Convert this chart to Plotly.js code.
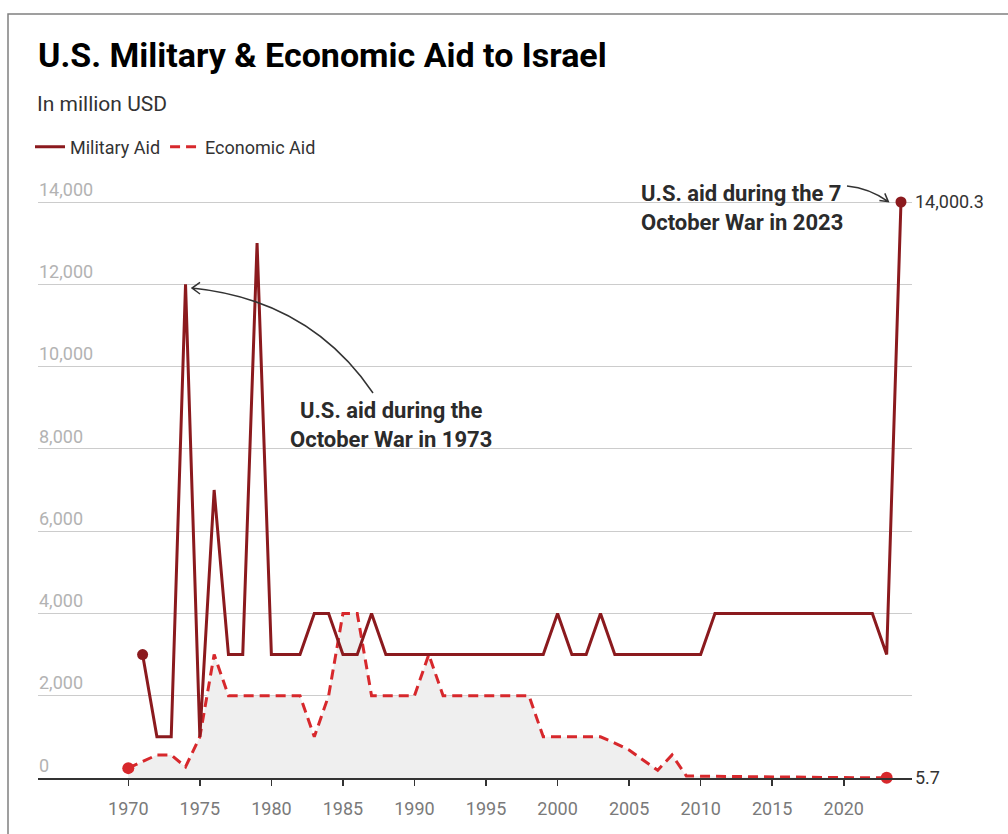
<!DOCTYPE html>
<html>
<head>
<meta charset="utf-8">
<script src="https://cdn.plot.ly/plotly-3.0.1.min.js"></script>
<style>
html,body{margin:0;padding:0;background:#fff;overflow:hidden;}
#chart{width:1008px;height:834px;}
</style>
</head>
<body>
<div id="chart"></div>
<script>
// ---- data ----
const militaryYears = [1971,1972,1973,1974,1975,1976,1977,1978,1979,1980,1981,1982,1983,1984,1985,1986,1987,1988,1989,1990,1991,1992,1993,1994,1995,1996,1997,1998,1999,2000,2001,2002,2003,2004,2005,2006,2007,2008,2009,2010,2011,2012,2013,2014,2015,2016,2017,2018,2019,2020,2021,2022,2023,2024];
const militaryAid = [3000,1000,1000,12000,1000,7000,3000,3000,13000,3000,3000,3000,4000,4000,3000,3000,4000,3000,3000,3000,3000,3000,3000,3000,3000,3000,3000,3000,3000,4000,3000,3000,4000,3000,3000,3000,3000,3000,3000,3000,4000,4000,4000,4000,4000,4000,4000,4000,4000,4000,4000,4000,3000,14000.3];
const economicYears = [1970,1971,1972,1973,1974,1975,1976,1977,1978,1979,1980,1981,1982,1983,1984,1985,1986,1987,1988,1989,1990,1991,1992,1993,1994,1995,1996,1997,1998,1999,2000,2001,2002,2003,2004,2005,2006,2007,2008,2009,2010,2011,2012,2013,2014,2015,2016,2017,2018,2019,2020,2021,2022,2023];
const economicAid = [240,400,560,560,270,1000,3000,2000,2000,2000,2000,2000,2000,1000,2000,4000,4000,2000,2000,2000,2000,3000,2000,2000,2000,2000,2000,2000,2000,1000,1000,1000,1000,1000,850,680,430,190,560,50,45,40,35,30,25,20,15,10,8,6,6,6,6,5.7];
const xTickVals = [1970,1975,1980,1985,1990,1995,2000,2005,2010,2015,2020];
const yTickVals = [0,2000,4000,6000,8000,10000,12000,14000];
const seriesNames = ['Military Aid','Economic Aid'];

// ---- styling ----
const MIL = '#8b1a1e', ECO = '#d7282c';
const FONT = 'Roboto, "Noto Sans", sans-serif';
const L = 38, R = 912, T = 190, B = 778;
const px = x => (x - L) / (R - L);
const py = y => (B - y) / (B - T);
const P = (x, y) => px(x).toFixed(4) + ',' + py(y).toFixed(4);

const last = a => a[a.length - 1];
const fmt = v => v.toLocaleString('en-US', {maximumFractionDigits: 1});

const traces = [
  {x: economicYears, y: economicAid, mode: 'lines', fill: 'tozeroy', fillcolor: '#efefef',
   line: {width: 0, color: '#efefef'}, showlegend: false, hoverinfo: 'skip', cliponaxis: false},
  {x: economicYears, y: economicAid, mode: 'lines', name: seriesNames[1], legendrank: 2,
   line: {color: ECO, width: 3, dash: '10px,6px'}, cliponaxis: false},
  {x: militaryYears, y: militaryAid, mode: 'lines', name: seriesNames[0], legendrank: 1,
   line: {color: MIL, width: 3}, cliponaxis: false},
  {x: [militaryYears[0], last(militaryYears)], y: [militaryAid[0], last(militaryAid)], mode: 'markers',
   marker: {color: MIL, size: 11}, showlegend: false, cliponaxis: false, hoverinfo: 'skip'},
  {x: [economicYears[0], last(economicYears)], y: [economicAid[0], last(economicAid)], mode: 'markers',
   marker: {color: ECO, size: 12}, showlegend: false, cliponaxis: false, hoverinfo: 'skip'}
];

const arrow1 = 'M' + P(373,393) + ' Q' + P(310,300) + ' ' + P(192,288) +
               ' M' + P(200,282.5) + ' L' + P(192,288) + ' L' + P(200,294);
const arrow2 = 'M' + P(847,186) + ' Q' + P(869.6,188.2) + ' ' + P(888.3,201.7) +
               ' M' + P(884.8,193.4) + ' L' + P(888.3,201.7) + ' L' + P(879.4,200.6);

const layout = {
  width: 1008, height: 834,
  margin: {l: L, r: 1008 - R, t: T, b: 834 - B, pad: 0},
  paper_bgcolor: '#fff', plot_bgcolor: '#fff',
  font: {family: FONT, color: '#333', size: 18},
  title: {text: '<b>U.S. Military & Economic Aid to Israel</b>', x: L/1008, xanchor: 'left', xref: 'container',
          y: 1 - 55/834, yanchor: 'middle', yref: 'container',
          font: {family: FONT, size: 34, color: '#000'}},
  showlegend: true,
  legend: {orientation: 'h', xref: 'container', yref: 'container', x: 30/1008, xanchor: 'left',
           y: 1 - 147/834, yanchor: 'middle', font: {family: FONT, size: 18, color: '#333'},
           bgcolor: 'rgba(0,0,0,0)', traceorder: 'normal'},
  xaxis: {range: [1963.69, 2024.77], tickvals: xTickVals, ticks: 'outside', ticklen: 6, tickwidth: 1.5,
          tickcolor: '#333', showline: true, linecolor: '#333', linewidth: 1.5, showgrid: false,
          zeroline: false, ticklabelstandoff: 8, tickfont: {family: FONT, size: 18, color: '#7a7a7a'},
          fixedrange: true},
  yaxis: {range: [0, 14000 * 588 / 576], tickvals: yTickVals, tickformat: ',', showgrid: true,
          gridcolor: '#cccccc', gridwidth: 1, zeroline: false, showline: false, ticks: '',
          ticklabelposition: 'inside top', ticklabeloverflow: 'allow', ticklabelstandoff: -2,
          tickfont: {family: FONT, size: 18, color: '#b3b3b3'}, fixedrange: true},
  shapes: [
    {type: 'rect', xref: 'paper', yref: 'paper', x0: px(8), x1: px(1200), y0: py(1000), y1: py(14),
     line: {color: '#808080', width: 1.5}, fillcolor: 'rgba(0,0,0,0)', layer: 'below'},
    {type: 'path', xref: 'paper', yref: 'paper', path: arrow1, line: {color: '#333', width: 1.5}},
    {type: 'path', xref: 'paper', yref: 'paper', path: arrow2, line: {color: '#333', width: 1.5}}
  ],
  annotations: [
    {xref: 'paper', yref: 'paper', x: px(35), y: py(104), xanchor: 'left', yanchor: 'middle',
     text: 'In million USD', showarrow: false, font: {family: FONT, size: 21, color: '#333'}},
    {xref: 'paper', yref: 'paper', x: px(391), y: py(425), xanchor: 'center', yanchor: 'middle', align: 'center',
     text: '<b>U.S. aid during the<br>October War in 1973</b>', showarrow: false,
     font: {family: FONT, size: 22, color: '#2b2b2b'}},
    {xref: 'paper', yref: 'paper', x: px(639), y: py(208), xanchor: 'left', yanchor: 'middle', align: 'left',
     text: '<b>U.S. aid during the 7<br>October War in 2023</b>', showarrow: false,
     font: {family: FONT, size: 22, color: '#2b2b2b'}},
    {xref: 'paper', yref: 'y', x: 1, y: last(militaryAid), xanchor: 'left', yanchor: 'middle', xshift: 1,
     text: fmt(last(militaryAid)), showarrow: false, font: {family: FONT, size: 18, color: '#333'}},
    {xref: 'paper', yref: 'y', x: 1, y: last(economicAid), xanchor: 'left', yanchor: 'middle', xshift: 1,
     text: fmt(last(economicAid)), showarrow: false, font: {family: FONT, size: 18, color: '#333'}}
  ]
};

Plotly.newPlot('chart', traces, layout, {displayModeBar: false, staticPlot: true});
</script>
</body>
</html>
